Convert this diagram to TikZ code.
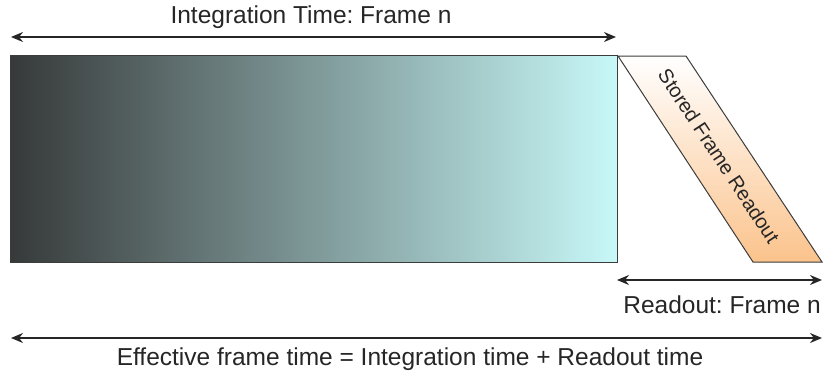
\documentclass[tikz,border=0pt]{standalone}
\usepackage{fontspec}
\setmainfont{Liberation Sans}
\usepackage{xcolor}
\usetikzlibrary{arrows.meta}
\frenchspacing

\definecolor{framedark}{HTML}{363939}
\definecolor{framelight}{HTML}{C8F8F8}
\definecolor{readorange}{HTML}{FBC38C}
\definecolor{edgegray}{HTML}{3C3C3C}

\tikzset{
    timearrow/.style={{Stealth[length=12pt,width=10pt]}-{Stealth[length=12pt,width=10pt]}, line width=1.6pt, black!85},
    label/.style={font=\fontsize{24.5}{27}\selectfont, text=black!85, inner sep=0pt}
}

\begin{document}
\begin{tikzpicture}[x=1pt, y=-1pt]
        \useasboundingbox (0, 0) rectangle (823, 373);

        % integration frame
        \draw[edgegray, line width=1pt, left color=framedark, right color=framelight] (10, 55) rectangle (617, 262);

        % stored frame readout
        \draw[edgegray, line width=1pt, top color=white, bottom color=readorange] (618, 56) -- (686, 56) -- (822, 262) -- (753, 262) -- cycle;
        \node[label, font=\fontsize{20}{22}\selectfont, rotate=-56.7] (stored) at (719, 156) {Stored Frame Readout};

        \coordinate (int-l) at (11, 37);
        \coordinate (int-r) at (616, 37);
        \draw[timearrow] (int-l) -- (int-r); % integration
        \node[label] (int-lab) at (311, 17) {Integration Time: Frame n};

        \coordinate (read-l) at (617, 280);
        \coordinate (read-r) at (822, 280);
        \draw[timearrow] (read-l) -- (read-r); % readout
        \node[label, anchor=east] (read-lab) at (821, 305) {Readout: Frame n};

        \coordinate (eff-l) at (11, 338);
        \coordinate (eff-r) at (822, 338);
        \draw[timearrow] (eff-l) -- (eff-r); % effective frame time
        \node[label] (eff-lab) at (410, 359) {Effective frame time = Integration time + Readout time};
    \end{tikzpicture}
\end{document}
